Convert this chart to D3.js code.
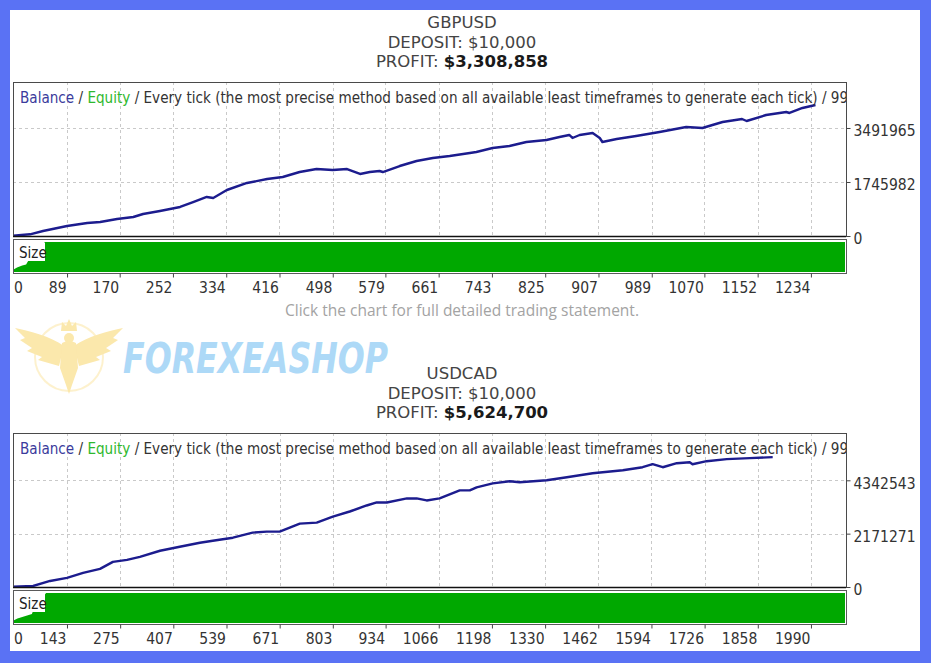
<!DOCTYPE html>
<html><head><meta charset="utf-8">
<script src="https://cdn.jsdelivr.net/npm/d3@7"></script>
<style>
html,body{margin:0;padding:0;background:#5a72f4;overflow:hidden;}
svg{display:block;}
</style></head><body>
<svg id="c" width="931" height="663"></svg>
<script>
// ---------------- DATA ----------------
const symbols = ["GBPUSD", "USDCAD"];
const deposits = ["$10,000", "$10,000"];
const profits = ["$3,308,858", "$5,624,700"];
const legendParts = ["Balance", " / ", "Equity", " / Every tick (the most precise method based on all available least timeframes to generate each tick) / 99.90%"];
const footerText = "Click the chart for full detailed trading statement.";
const watermarkText = "FOREXEASHOP";

// GBPUSD balance curve (trade number, balance)
const gbpTrades = [6,32,52,89,120,140,166,191,206,232,263,283,304,314,335,366,397,421,447,473,498,520,540,555,570,575,601,627,652,678,709,719,744,770,796,827,847,862,867,878,898,909,913,935,965,1001,1042,1067,1098,1128,1135,1165,1196,1201,1221,1241];
const gbpBalance = [10000,55000,162000,323000,420000,453000,550000,614000,711000,808000,938000,1099000,1261000,1229000,1487000,1714000,1843000,1908000,2069000,2166000,2134000,2166000,2005000,2069000,2102000,2069000,2263000,2425000,2522000,2587000,2684000,2716000,2845000,2910000,3039000,3104000,3201000,3266000,3169000,3266000,3330000,3169000,3039000,3136000,3233000,3363000,3524000,3492000,3686000,3783000,3718000,3912000,4009000,3977000,4139000,4236000];
const gbpSizeTrades = [6,12,20,26,30,45,55,1288];
const gbpSize = [7,15,22,25,40,70,100,100];
const gbpXTicks = [0,89,170,252,334,416,498,579,661,743,825,907,989,1070,1152,1234];
const gbpYTicks = [0,1745982,3491965];
const gbpXDomain = [5.8,1288];
const gbpYMax = 4979000;

// USDCAD balance curve
const cadTrades = [9,59,101,143,183,225,257,292,324,374,423,473,505,555,604,639,671,696,721,763,803,845,887,912,937,987,1011,1036,1068,1118,1143,1160,1200,1242,1267,1334,1384,1448,1473,1523,1572,1597,1622,1657,1689,1696,1731,1781,1838,1895];
const cadBalance = [10000,41000,246000,369000,574000,737000,1024000,1106000,1229000,1475000,1639000,1803000,1884000,2007000,2212000,2253000,2253000,2417000,2581000,2622000,2868000,3073000,3318000,3441000,3441000,3605000,3605000,3523000,3605000,3933000,3933000,4056000,4220000,4302000,4261000,4343000,4465000,4629000,4670000,4752000,4875000,4998000,4875000,5039000,5080000,4998000,5121000,5203000,5244000,5285000];
const cadSizeTrades = [9,20,44,56,60,75,91,2077];
const cadSize = [7,15,25,30,45,70,100,100];
const cadXTicks = [0,143,275,407,539,671,803,934,1066,1198,1330,1462,1594,1726,1858,1990];
const cadYTicks = [0,2171271,4342543];
const cadXDomain = [9,2077];
const cadYMax = 6268000;

// ---------------- DRAW ----------------
const W = 931, H = 663;
const svg = d3.select("#c");
svg.append("rect").attr("width", W).attr("height", H).attr("fill", "#5a72f4");
svg.append("rect").attr("x", 10).attr("y", 10).attr("width", 910).attr("height", 641).attr("fill", "#ffffff");

const chartFont = "'DejaVu Sans Condensed','Liberation Sans',sans-serif";
const titleFont = "'DejaVu Sans',sans-serif";
const frameL = 13, frameR = 846;

const panels = [
  {i:0, dy:0, trades:gbpTrades, bal:gbpBalance, sT:gbpSizeTrades, s:gbpSize, xt:gbpXTicks, yt:gbpYTicks, xd:gbpXDomain, ymax:gbpYMax},
  {i:1, dy:351, trades:cadTrades, bal:cadBalance, sT:cadSizeTrades, s:cadSize, xt:cadXTicks, yt:cadYTicks, xd:cadXDomain, ymax:cadYMax}
];

panels.forEach(p => {
  const g = svg.append("g").attr("transform", `translate(0,${p.dy})`);
  // title block
  const t = g.append("g").attr("font-family", titleFont).attr("font-size", 16.5)
    .attr("fill", "#444").attr("text-anchor", "middle");
  t.append("text").attr("x", 462).attr("y", 28).text(symbols[p.i]);
  t.append("text").attr("x", 462).attr("y", 48).text("DEPOSIT: " + deposits[p.i]);
  const pt = t.append("text").attr("x", 462).attr("y", 67);
  pt.append("tspan").text("PROFIT: ");
  pt.append("tspan").attr("font-weight", "bold").attr("fill", "#1a1a1a").text(profits[p.i]);

  const top = 82, bot = 236, sTop = 239, sBot = 273;
  const x = d3.scaleLinear().domain(p.xd).range([frameL, frameR]);
  const y = d3.scaleLinear().domain([0, p.ymax]).range([bot, top]);
  const ys = d3.scaleLinear().domain([0, 100]).range([sBot - 1, sTop + 3]);

  const clipId = "clip" + p.i, sClipId = "sclip" + p.i;
  g.append("clipPath").attr("id", clipId).append("rect")
    .attr("x", frameL).attr("y", top).attr("width", frameR - frameL).attr("height", bot - top);
  g.append("clipPath").attr("id", sClipId).append("rect")
    .attr("x", frameL + 1).attr("y", sTop + 1).attr("width", frameR - frameL - 2).attr("height", sBot - sTop - 1);

  // grid
  const grid = g.append("g").attr("stroke", "#c9c9c9").attr("stroke-dasharray", "3,3").attr("stroke-width", 1);
  grid.selectAll("line.v").data(p.xt.filter(d => d > 0)).join("line")
    .attr("x1", d => Math.round(x(d)) + 0.5).attr("x2", d => Math.round(x(d)) + 0.5)
    .attr("y1", top).attr("y2", bot);
  grid.selectAll("line.h").data(p.yt.filter(d => d > 0)).join("line")
    .attr("x1", frameL).attr("x2", frameR)
    .attr("y1", d => Math.round(y(d)) + 0.5).attr("y2", d => Math.round(y(d)) + 0.5);

  // balance line
  const data = p.trades.map((d, k) => [d, p.bal[k]]);
  g.append("path").datum(data).attr("clip-path", `url(#${clipId})`)
    .attr("fill", "none").attr("stroke", "#1c1c8e").attr("stroke-width", 2.4)
    .attr("stroke-linejoin", "round")
    .attr("d", d3.line().x(d => x(d[0])).y(d => y(d[1])));

  // frame
  g.append("rect").attr("x", frameL + 0.5).attr("y", top + 0.5).attr("width", frameR - frameL).attr("height", bot - top)
    .attr("fill", "none").attr("stroke", "#4a4a4a").attr("stroke-width", 1);
  g.append("line").attr("x1", frameL).attr("x2", frameR).attr("y1", bot + 0.5).attr("y2", bot + 0.5)
    .attr("stroke", "#111").attr("stroke-width", 1.5);

  // legend
  const lg = g.append("text").attr("clip-path", `url(#${clipId})`).attr("x", 20).attr("y", 103)
    .attr("font-family", chartFont).attr("font-size", 15.1).attr("fill", "#333");
  const legendColors = ["#3b3b9c", "#333", "#2eb82e", "#333"];
  legendParts.forEach((s, k) => lg.append("tspan").attr("fill", legendColors[k]).attr("xml:space", "preserve").text(s));

  // size panel
  g.append("rect").attr("x", frameL + 0.5).attr("y", sTop + 0.5).attr("width", frameR - frameL).attr("height", sBot - sTop)
    .attr("fill", "#fff").attr("stroke", "#5a5a5a").attr("stroke-width", 1);
  const sData = p.sT.map((d, k) => [d, p.s[k]]);
  g.append("path").datum(sData).attr("clip-path", `url(#${sClipId})`)
    .attr("fill", "#00a800")
    .attr("d", d3.area().x(d => x(d[0])).y0(sBot - 1).y1(d => ys(d[1])));
  g.append("rect").attr("x", 17).attr("y", sTop + 4).attr("width", 28).attr("height", 18).attr("fill", "#fff");
  g.append("text").attr("x", 19).attr("y", sTop + 19).attr("font-family", chartFont).attr("font-size", 15)
    .attr("fill", "#222").text("Size");

  // y axis
  const ya = g.append("g").attr("transform", `translate(${frameR + 0.5},0)`)
    .call(d3.axisRight(y).tickValues(p.yt).tickSize(4).tickPadding(3).tickFormat(d3.format("d")));
  ya.select(".domain").remove();
  ya.selectAll("line").attr("stroke", "#444");
  ya.selectAll("text").attr("font-family", chartFont).attr("font-size", 15.5).attr("fill", "#333").attr("dy", "0.5em");

  // x axis
  const xa = g.append("g").attr("transform", `translate(0,${sBot + 0.5})`)
    .call(d3.axisBottom(x).tickValues(p.xt).tickSize(4).tickPadding(2).tickFormat(d3.format("d")));
  xa.select(".domain").remove();
  xa.selectAll("line").attr("stroke", "#444");
  xa.selectAll(".tick").filter(d => d === 0).select("line").remove();
  xa.selectAll(".tick").filter(d => d === 0).attr("transform", `translate(${frameL + 1},0)`);
  xa.selectAll("text").attr("font-family", chartFont).attr("font-size", 15.5).attr("fill", "#333")
    .attr("dy", null).attr("y", 19)
    .attr("text-anchor", d => d === 0 ? "start" : "end")
    .attr("x", d => d === 0 ? 0 : -1);
});

// footer under first chart
svg.append("text").attr("x", 462).attr("y", 316).attr("text-anchor", "middle")
  .attr("font-family", "'Open Sans',sans-serif").attr("font-size", 15.5).attr("fill", "#a3a3a3")
  .text(footerText);

// watermark
const wm = svg.append("g").attr("opacity", 0.95);
const gold = "#fbe7a8";
wm.append("circle").attr("cx", 69).attr("cy", 357).attr("r", 34).attr("fill", "none").attr("stroke", gold).attr("stroke-width", 2).attr("opacity", 0.6);
wm.append("path").attr("fill", gold).attr("d", "M61,331 L62,322 L66,326 L69,319 L72,326 L76,322 L77,331 Z");
wm.append("circle").attr("cx", 69).attr("cy", 338).attr("r", 5).attr("fill", gold);
wm.append("path").attr("fill", gold).attr("d", "M64,346 C50,336 30,331 15,328 L25,338 L20,340 L32,348 L27,351 L42,357 L38,360 L59,366 Z");
wm.append("path").attr("fill", gold).attr("d", "M74,346 C88,336 108,331 123,328 L113,338 L118,340 L106,348 L111,351 L96,357 L100,360 L79,366 Z");
wm.append("path").attr("fill", gold).attr("d", "M62,343 Q69,339 76,343 L78,368 L72,385 L69,394 L66,385 L60,368 Z");
wm.append("text").attr("transform", "translate(123,373) scale(1,1.33)")
  .attr("font-family", "'DejaVu Sans',sans-serif").attr("font-size", 32).attr("font-weight", 900)
  .attr("font-style", "italic").attr("fill", "#a9d7f7")
  .attr("textLength", 265).attr("lengthAdjust", "spacingAndGlyphs")
  .text(watermarkText);
</script>
</body></html>
